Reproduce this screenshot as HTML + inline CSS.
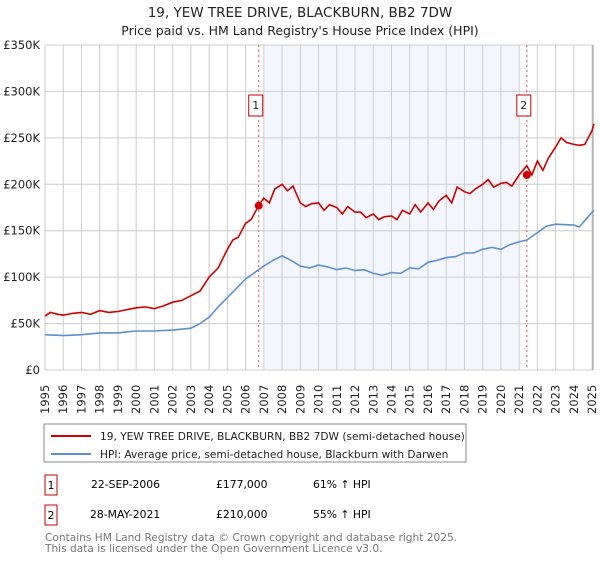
<!DOCTYPE html>
<html><head><meta charset="utf-8"><style>
body{margin:0;background:#fff;font-family:"Liberation Sans","DejaVu Sans",sans-serif}
svg text{font-family:"DejaVu Sans","Liberation Sans",sans-serif}
</style></head><body>
<svg id="c" width="600" height="560" xmlns="http://www.w3.org/2000/svg">
<text x="300" y="17" text-anchor="middle" font-size="13.5" fill="#222">19, YEW TREE DRIVE, BLACKBURN, BB2 7DW</text>
<text x="300" y="35" text-anchor="middle" font-size="12.5" fill="#222">Price paid vs. HM Land Registry's House Price Index (HPI)</text>
<g id="plot"></g>
<rect x="44" y="424" width="422" height="38" fill="#fff" stroke="#888"/>
<line x1="51" y1="436" x2="91" y2="436" stroke="#cc0000" stroke-width="2"/>
<text x="100" y="440" font-size="10.6" fill="#222">19, YEW TREE DRIVE, BLACKBURN, BB2 7DW (semi-detached house)</text>
<line x1="51" y1="454" x2="91" y2="454" stroke="#5b8fd0" stroke-width="2"/>
<text x="100" y="458" font-size="10.6" fill="#222">HPI: Average price, semi-detached house, Blackburn with Darwen</text>
<g>
<rect x="45" y="475" width="12" height="20" fill="#fff" stroke="#cc0000"/>
<text x="51" y="489" text-anchor="middle" font-size="11">1</text>
<text x="91" y="488" font-size="10.8">22-SEP-2006</text>
<text x="216" y="488" font-size="10.8">£177,000</text>
<text x="313" y="488" font-size="10.8">61% ↑ HPI</text></g>
<g>
<rect x="45" y="505" width="12" height="20" fill="#fff" stroke="#cc0000"/>
<text x="51" y="519" text-anchor="middle" font-size="11">2</text>
<text x="90" y="518" font-size="10.8">28-MAY-2021</text>
<text x="216" y="518" font-size="10.8">£210,000</text>
<text x="313" y="518" font-size="10.8">55% ↑ HPI</text></g>
<text x="45" y="541" font-size="10.6" fill="#777">Contains HM Land Registry data © Crown copyright and database right 2025.</text>
<text x="45" y="552" font-size="10.6" fill="#777">This data is licensed under the Open Government Licence v3.0.</text>
</svg>
<script>
const yTicks=[0,50000,100000,150000,200000,250000,300000,350000];
const yTickLabels=["£0","£50K","£100K","£150K","£200K","£250K","£300K","£350K"];
const years=[1995,1996,1997,1998,1999,2000,2001,2002,2003,2004,2005,2006,2007,2008,2009,2010,2011,2012,2013,2014,2015,2016,2017,2018,2019,2020,2021,2022,2023,2024,2025];
const propT=[1995,1995.3,1995.7,1996,1996.5,1997,1997.5,1998,1998.5,1999,1999.5,2000,2000.5,2001,2001.5,2002,2002.5,2003,2003.5,2004,2004.5,2005,2005.3,2005.6,2006,2006.3,2006.72,2007,2007.3,2007.6,2008,2008.3,2008.6,2009,2009.3,2009.6,2010,2010.3,2010.6,2011,2011.3,2011.6,2012,2012.3,2012.6,2013,2013.3,2013.6,2014,2014.3,2014.6,2015,2015.3,2015.6,2016,2016.3,2016.6,2017,2017.3,2017.6,2018,2018.3,2018.6,2019,2019.3,2019.6,2020,2020.3,2020.6,2021,2021.42,2021.7,2022,2022.3,2022.6,2023,2023.3,2023.6,2024,2024.3,2024.6,2025,2025.1];
const propV=[58,62,60,59,61,62,60,64,62,63,65,67,68,66,69,73,75,80,85,100,110,130,140,143,158,162,177,185,180,195,200,193,198,180,176,179,180,172,178,175,168,176,170,170,164,168,162,165,166,162,172,168,178,170,180,173,182,188,180,197,192,190,195,200,205,197,201,202,198,210,220,210,225,215,228,240,250,245,243,242,243,258,265,268].map(v=>v*1000);
const hpiT=[1995,1996,1997,1998,1999,2000,2001,2002,2003,2003.5,2004,2004.5,2005,2005.5,2006,2006.72,2007,2007.5,2008,2008.5,2009,2009.5,2010,2010.5,2011,2011.5,2012,2012.5,2013,2013.5,2014,2014.5,2015,2015.5,2016,2016.5,2017,2017.5,2018,2018.5,2019,2019.5,2020,2020.5,2021,2021.42,2022,2022.5,2023,2024,2024.3,2025,2025.1];
const hpiV=[38,37,38,40,40,42,42,43,45,50,57,68,78,88,98,108,112,118,123,118,112,110,113,111,108,110,107,108,104,102,105,104,110,109,116,118,121,122,126,126,130,132,130,135,138,140,148,155,157,156,154,170,172].map(v=>v*1000);
const sales=[[2006.72,177000],[2021.42,210000]];
const X0=45,X1=593,Y0=370,Y1=45;
const sx=t=>X0+(t-1995)/(2025.05-1995)*(X1-X0);
const sy=v=>Y0-v/350000*(Y0-Y1);
const NS="http://www.w3.org/2000/svg";
const g=document.getElementById('plot');
function mk(tag,a,p){const e=document.createElementNS(NS,tag);for(const k in a)e.setAttribute(k,a[k]);(p||g).appendChild(e);return e;}
let e=mk('rect',{x:sx(2007),y:Y1,width:sx(2021)-sx(2007),height:Y0-Y1,fill:'#eef3fc',opacity:0.7});


years.forEach(y=>{let l=mk('line',{x1:sx(y),x2:sx(y),y1:Y1,y2:Y0,stroke:'#cccccc'});


let t=mk('text',{transform:`translate(${sx(y)+4},${Y0+44}) rotate(-90)`,'font-size':'11.5',fill:'#222'});t.textContent=y;

});
yTicks.forEach((v,i)=>{let l=mk('line',{x1:X0,x2:X1,y1:sy(v),y2:sy(v),stroke:'#cccccc'});


let t=mk('text',{x:X0-5,y:sy(v)+4,'text-anchor':'end','font-size':'11.5',fill:'#222'});t.textContent=yTickLabels[i];

});
mk('line',{x1:X1,x2:X1,y1:Y1,y2:Y0,stroke:'#999'});
sales.forEach((s,i)=>{let l=mk('line',{x1:sx(s[0]),x2:sx(s[0]),y1:Y1,y2:Y0,stroke:'#e85050','stroke-dasharray':'2,3'});

});
function path(T,V,col,name){let d=T.map((t,i)=>(i?'L':'M')+sx(t).toFixed(1)+','+sy(V[i]).toFixed(1)).join('');
let p=mk('path',{d:d,fill:'none',stroke:col,'stroke-width':1.6});

}
path(hpiT,hpiV,'#5b8fd0','hpi-line');
path(propT,propV,'#cc0000','property-price-line');
sales.forEach((s,i)=>{let c=mk('circle',{cx:sx(s[0]),cy:sy(s[1]),r:4,fill:'#cc0000'});


let r=mk('rect',{x:sx(s[0])-10,y:95,width:14,height:21,fill:'#fff',stroke:'#cc0000'});


let t=mk('text',{x:sx(s[0])-3,y:109,'text-anchor':'middle','font-size':'11',fill:'#222'});t.textContent=i+1;

});
</script>
</body></html>
